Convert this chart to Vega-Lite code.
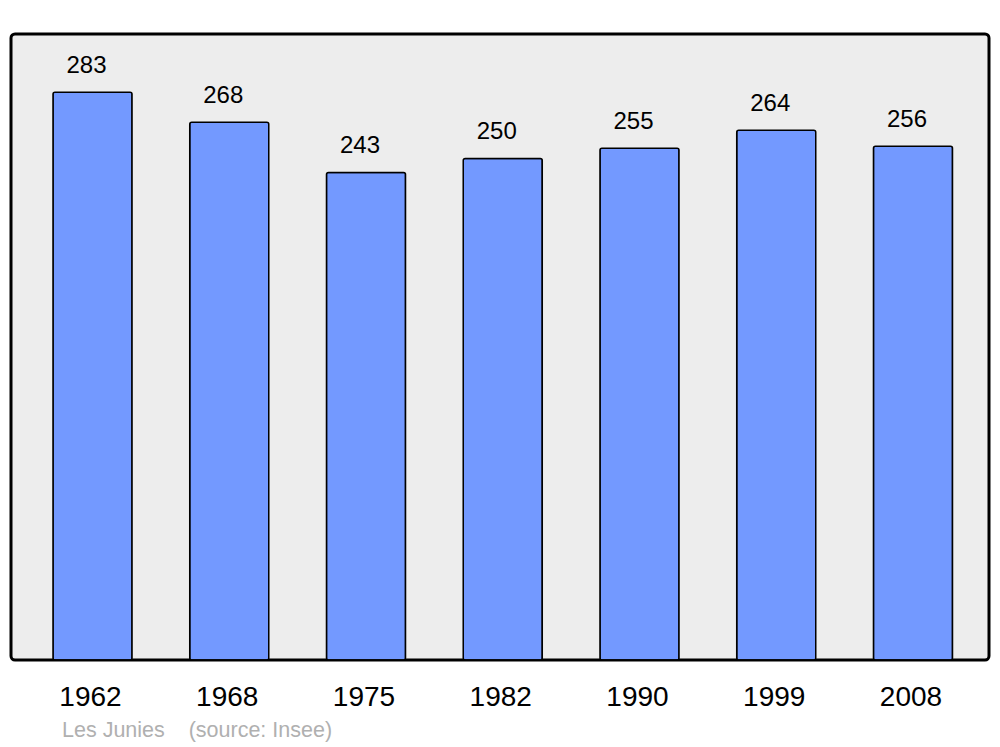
{
  "$schema": "https://vega.github.io/schema/vega-lite/v6.json",
  "autosize": {"type": "none"},
  "padding": {"left": 11, "top": 34, "right": 11, "bottom": 87},
  "width": 978,
  "height": 626,
  "background": "white",
  "config": {
    "font": "Liberation Sans",
    "view": {"fill": "#ededed", "stroke": "black", "strokeWidth": 3, "cornerRadius": 4}
  },
  "title": {
    "text": "Les Junies\u00a0\u00a0\u00a0 (source: Insee)",
    "orient": "bottom",
    "anchor": "start",
    "frame": "group",
    "dx": 51,
    "offset": 9,
    "fontSize": 21.5,
    "fontWeight": "normal",
    "color": "#b0b0b0",
    "font": "Liberation Sans"
  },
  "data": {
    "values": [
      {"year": "1962", "pop": 283},
      {"year": "1968", "pop": 268},
      {"year": "1975", "pop": 243},
      {"year": "1982", "pop": 250},
      {"year": "1990", "pop": 255},
      {"year": "1999", "pop": 264},
      {"year": "2008", "pop": 256}
    ]
  },
  "encoding": {
    "x": {
      "field": "year",
      "type": "ordinal",
      "scale": {"paddingInner": 0.422, "paddingOuter": 0.287, "align": 0.535},
      "axis": {
        "title": null,
        "domain": false,
        "ticks": false,
        "labelAngle": 0,
        "labelFontSize": 28,
        "labelColor": "black",
        "labelBaseline": "alphabetic",
        "labelPadding": 45,
        "labelOffset": -2,
        "labelFont": "Liberation Sans"
      }
    },
    "y": {
      "field": "pop",
      "type": "quantitative",
      "scale": {"domain": [0, 312], "nice": false},
      "axis": null
    }
  },
  "layer": [
    {
      "mark": {"type": "bar", "fill": "#7399ff", "stroke": "black", "strokeWidth": 1.5, "cornerRadius": 2}
    },
    {
      "mark": {"type": "text", "baseline": "alphabetic", "dy": -19, "dx": -6, "fontSize": 24, "color": "black", "font": "Liberation Sans"},
      "encoding": {"text": {"field": "pop", "type": "quantitative"}}
    }
  ]
}
